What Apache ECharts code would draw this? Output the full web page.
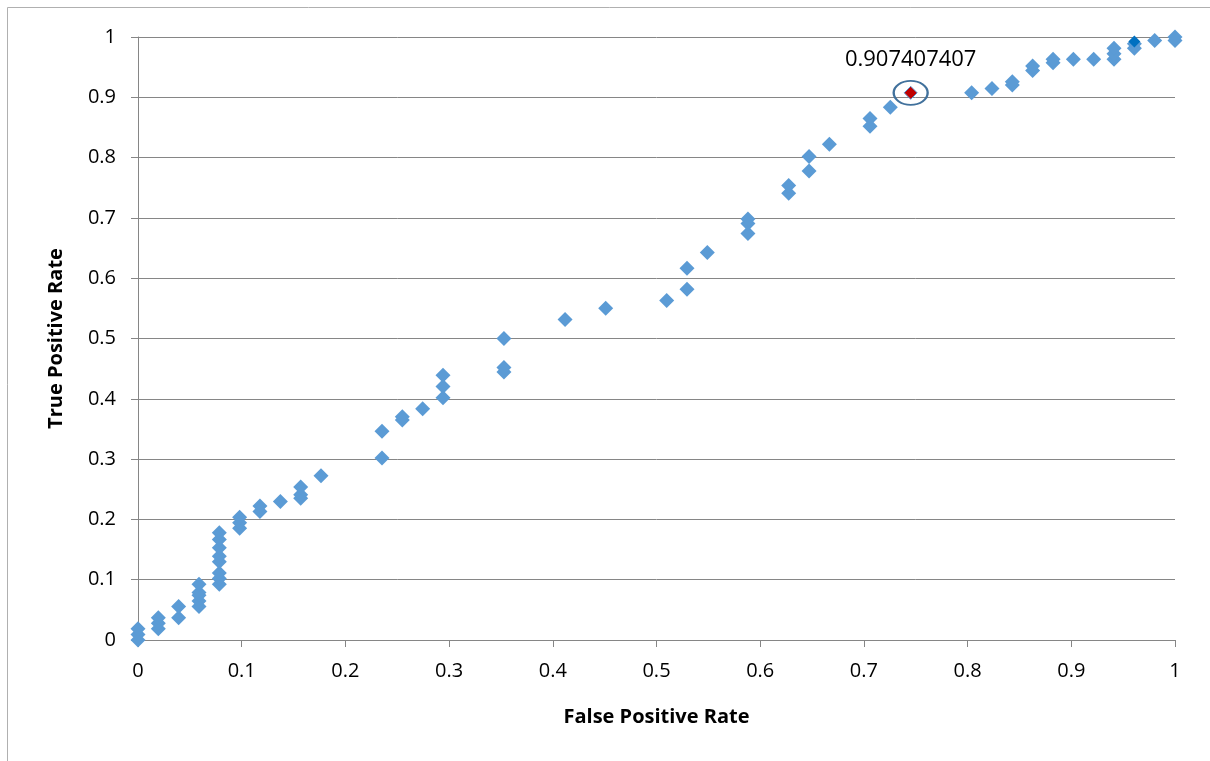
<!DOCTYPE html>
<html>
<head>
<meta charset="utf-8">
<script src="https://cdn.jsdelivr.net/npm/echarts@6/dist/echarts.min.js"></script>
<style>
  html, body { margin: 0; padding: 0; background: #fff; }
  #chart { width: 1210px; height: 761px; }
</style>
</head>
<body>
<div id="chart"></div>
<script>
// ROC 点：FPR / TPR 分开存放
const fpr = [
  0, 0, 0,
  0.0196, 0.0196, 0.0196,
  0.0392, 0.0392,
  0.0588, 0.0588, 0.0588, 0.0588, 0.0588,
  0.0784, 0.0784, 0.0784, 0.0784, 0.0784, 0.0784, 0.0784, 0.0784,
  0.098, 0.098, 0.098,
  0.1176, 0.1176,
  0.1373,
  0.1569, 0.1569, 0.1569,
  0.1765,
  0.2353, 0.2353,
  0.2549, 0.2549,
  0.2745,
  0.2941, 0.2941, 0.2941,
  0.3529, 0.3529, 0.3529,
  0.4118,
  0.451,
  0.5098,
  0.5294, 0.5294,
  0.549,
  0.5882, 0.5882, 0.5882,
  0.6275, 0.6275,
  0.6471, 0.6471,
  0.6667,
  0.7059, 0.7059,
  0.7255,
  0.8039,
  0.8235,
  0.8431, 0.8431,
  0.8627, 0.8627,
  0.8824, 0.8824,
  0.902,
  0.9216,
  0.9412, 0.9412, 0.9412,
  0.9608, 0.9608,
  0.9804,
  1, 1
];
const tpr = [
  0, 0.0093, 0.0185,
  0.0185, 0.0278, 0.037,
  0.037, 0.0556,
  0.0556, 0.0648, 0.0741, 0.0787, 0.0926,
  0.0926, 0.1019, 0.1111, 0.1296, 0.1389, 0.1528, 0.1667, 0.1778,
  0.1852, 0.1944, 0.2037,
  0.213, 0.2222,
  0.2296,
  0.2352, 0.2407, 0.2537,
  0.2722,
  0.3019, 0.3463,
  0.3648, 0.3704,
  0.3833,
  0.4019, 0.4204, 0.4389,
  0.4444, 0.4519, 0.5,
  0.5315,
  0.5500,
  0.5630,
  0.5815, 0.6167,
  0.6426,
  0.6741, 0.6907, 0.6981,
  0.7407, 0.7537,
  0.7778, 0.8019,
  0.8222,
  0.8519, 0.8648,
  0.8833,
  0.9074,
  0.9148,
  0.9204, 0.9259,
  0.9444, 0.9519,
  0.9574, 0.9630,
  0.9630,
  0.9630,
  0.9630, 0.9722, 0.9815,
  0.9815, 0.9889,
  0.9944,
  0.9944, 1
];
// 被选中的点（红色）和深蓝色的点
const markedPoint = [0.7451, 0.907407407];
const darkPoint = [0.9608, 0.9926];

const xTicks = ['0', '0.1', '0.2', '0.3', '0.4', '0.5', '0.6', '0.7', '0.8', '0.9', '1'];

const chart = echarts.init(document.getElementById('chart'));

const points = fpr.map((x, i) => [x, tpr[i]]);
const font = '"Open Sans", Lato, sans-serif';
const gridColor = '#868686';

const option = {
  animation: false,
  backgroundColor: '#fff',
  textStyle: { fontFamily: font },
  graphic: [{
    type: 'rect',
    shape: { x: 7.5, y: 7.5, width: 1220, height: 770 },
    style: { fill: 'none', stroke: '#B0B0B0', lineWidth: 1 },
    silent: true
  }],
  grid: { left: 138, right: 35, top: 37, bottom: 121 },
  xAxis: {
    type: 'value',
    min: 0, max: 1, interval: 0.1,
    name: 'False Positive Rate',
    nameLocation: 'middle',
    nameGap: 67,
    nameTextStyle: { fontFamily: font, fontSize: 20, fontWeight: 'bold', color: '#000' },
    axisLine: { show: true, lineStyle: { color: gridColor, width: 1 } },
    axisTick: { show: true, length: 7, lineStyle: { color: gridColor } },
    axisLabel: {
      fontFamily: font, fontSize: 20, color: '#000', margin: 21,
      formatter: (v) => xTicks[Math.round(v * 10)]
    },
    splitLine: { show: false }
  },
  yAxis: {
    type: 'value',
    min: 0, max: 1, interval: 0.1,
    name: 'True Positive Rate',
    nameLocation: 'middle',
    nameGap: 72,
    nameTextStyle: { fontFamily: font, fontSize: 20, fontWeight: 'bold', color: '#000' },
    axisLine: { show: true, lineStyle: { color: gridColor, width: 1 } },
    axisTick: { show: true, length: 7, lineStyle: { color: gridColor } },
    axisLabel: {
      fontFamily: font, fontSize: 20, color: '#000', margin: 22,
      formatter: (v) => xTicks[Math.round(v * 10)]
    },
    splitLine: { show: true, lineStyle: { color: gridColor, width: 1 } }
  },
  series: [
    {
      type: 'scatter',
      data: points,
      symbol: 'diamond',
      symbolSize: 15,
      itemStyle: { color: '#5B9BD5', opacity: 1 }
    },
    {
      type: 'scatter',
      data: [darkPoint],
      symbol: 'diamond',
      symbolSize: 12,
      itemStyle: { color: '#0070C0', opacity: 1 },
      z: 3
    },
    {
      type: 'scatter',
      data: [markedPoint],
      symbol: 'diamond',
      symbolSize: 13,
      itemStyle: { color: '#C00000', borderColor: '#5B9BD5', borderWidth: 1, opacity: 1 },
      z: 4
    },
    {
      // 圈出选中的点并显示其数值
      type: 'scatter',
      data: [markedPoint],
      symbol: 'circle',
      symbolSize: [34, 24],
      itemStyle: { color: 'rgba(0,0,0,0)', borderColor: '#41719C', borderWidth: 2, opacity: 1 },
      label: {
        show: true,
        position: 'top',
        distance: 9,
        offset: [0, 0],
        formatter: () => String(markedPoint[1]),
        fontFamily: font,
        fontSize: 22,
        color: '#000'
      },
      z: 5
    }
  ]
};

chart.setOption(option);
</script>
</body>
</html>
